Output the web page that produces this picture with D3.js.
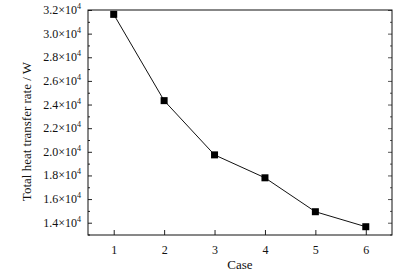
<!DOCTYPE html>
<html>
<head>
<meta charset="utf-8">
<script src="https://cdn.jsdelivr.net/npm/d3@7"></script>
<style>
  body { margin: 0; background: #fff; }
  svg text { font-family: "Liberation Serif", "Times New Roman", Times, "DejaVu Serif", serif !important; fill: #111; }
</style>
</head>
<body>
<div id="chart"></div>
<script>
// data
var cases = [1, 2, 3, 4, 5, 6];
var heatRate = [31630, 24330, 19740, 17800, 14930, 13660];
var yTicks = [14000, 16000, 18000, 20000, 22000, 24000, 26000, 28000, 30000, 32000];

var serif = "'Liberation Serif', 'Times New Roman', Times, serif";

var margin = {top: 10, right: 21, bottom: 41, left: 88},
    width = 413 - margin.left - margin.right,
    height = 276 - margin.top - margin.bottom;

var svg = d3.select("#chart")
  .append("svg")
    .attr("width", 413)
    .attr("height", 276)
    .attr("font-family", serif)
  .append("g")
    .attr("transform", "translate(" + margin.left + "," + margin.top + ")");

var x = d3.scaleLinear().domain([0.49, 6.52]).range([0, width]);
var y = d3.scaleLinear().domain([12960, 32000]).range([height, 0]);

// minor ticks every 1000
var minor = d3.range(13000, 32001, 1000).filter(function(v) { return v % 2000 != 0; });

// left axis
var left = svg.append("g")
  .call(d3.axisLeft(y).tickValues(yTicks).tickSize(-4).tickFormat(""));
left.select(".domain").remove();
left.selectAll("line").attr("stroke", "#222");
svg.append("g")
  .call(d3.axisLeft(y).tickValues(minor).tickSize(-2).tickFormat(""))
  .call(function(g) { g.select(".domain").remove(); g.selectAll("line").attr("stroke", "#222"); });

// tick labels with superscript
var labels = svg.append("g");
yTicks.forEach(function(v) {
  var t = labels.append("text")
    .attr("x", -7)
    .attr("y", y(v) + 4)
    .attr("text-anchor", "end")
    .attr("font-family", serif)
    .style("font-size", "12px");
  t.append("tspan").text((v / 10000).toFixed(1) + "\u00d710");
  t.append("tspan").attr("dy", -5).style("font-size", "8px").text("4");
});

// right axis ticks
svg.append("g")
  .attr("transform", "translate(" + width + ",0)")
  .call(d3.axisRight(y).tickValues(yTicks).tickSize(-4).tickFormat(""))
  .call(function(g) { g.select(".domain").remove(); g.selectAll("line").attr("stroke", "#555"); });
svg.append("g")
  .attr("transform", "translate(" + width + ",0)")
  .call(d3.axisRight(y).tickValues(minor).tickSize(-2).tickFormat(""))
  .call(function(g) { g.select(".domain").remove(); g.selectAll("line").attr("stroke", "#555"); });

// bottom axis
var bottom = svg.append("g")
  .attr("transform", "translate(0," + height + ")")
  .call(d3.axisBottom(x).tickValues(cases).tickSize(-5).tickPadding(10).tickFormat(d3.format("d")));
bottom.attr("font-family", serif).attr("font-size", 12);
bottom.select(".domain").remove();
bottom.selectAll("line").attr("stroke", "#222");
bottom.selectAll("text").attr("fill", "#111");

// frame
svg.append("rect")
  .attr("x", 0).attr("y", 0)
  .attr("width", width).attr("height", height)
  .attr("fill", "none")
  .attr("stroke", "#111")
  .attr("stroke-width", 1);

// the line
var data = cases.map(function(c, i) { return {c: c, v: heatRate[i]}; });
svg.append("path")
  .datum(data)
  .attr("fill", "none")
  .attr("stroke", "#111")
  .attr("stroke-width", 1)
  .attr("d", d3.line()
    .x(function(d) { return x(d.c); })
    .y(function(d) { return y(d.v); }));

svg.selectAll(".pt")
  .data(data)
  .enter().append("rect")
    .attr("x", function(d) { return x(d.c) - 3.5; })
    .attr("y", function(d) { return y(d.v) - 3.5; })
    .attr("width", 7)
    .attr("height", 7)
    .attr("fill", "#000");

// axis titles
svg.append("text")
  .attr("x", width / 2)
  .attr("y", height + 34)
  .attr("text-anchor", "middle")
  .attr("font-family", serif)
  .style("font-size", "13px")
  .text("Case");

svg.append("text")
  .attr("transform", "translate(-57," + (height / 2 + 9) + ") rotate(-90)")
  .attr("text-anchor", "middle")
  .attr("font-family", serif)
  .style("font-size", "13px")
  .text("Total heat transfer rate / W");
</script>
</body>
</html>
